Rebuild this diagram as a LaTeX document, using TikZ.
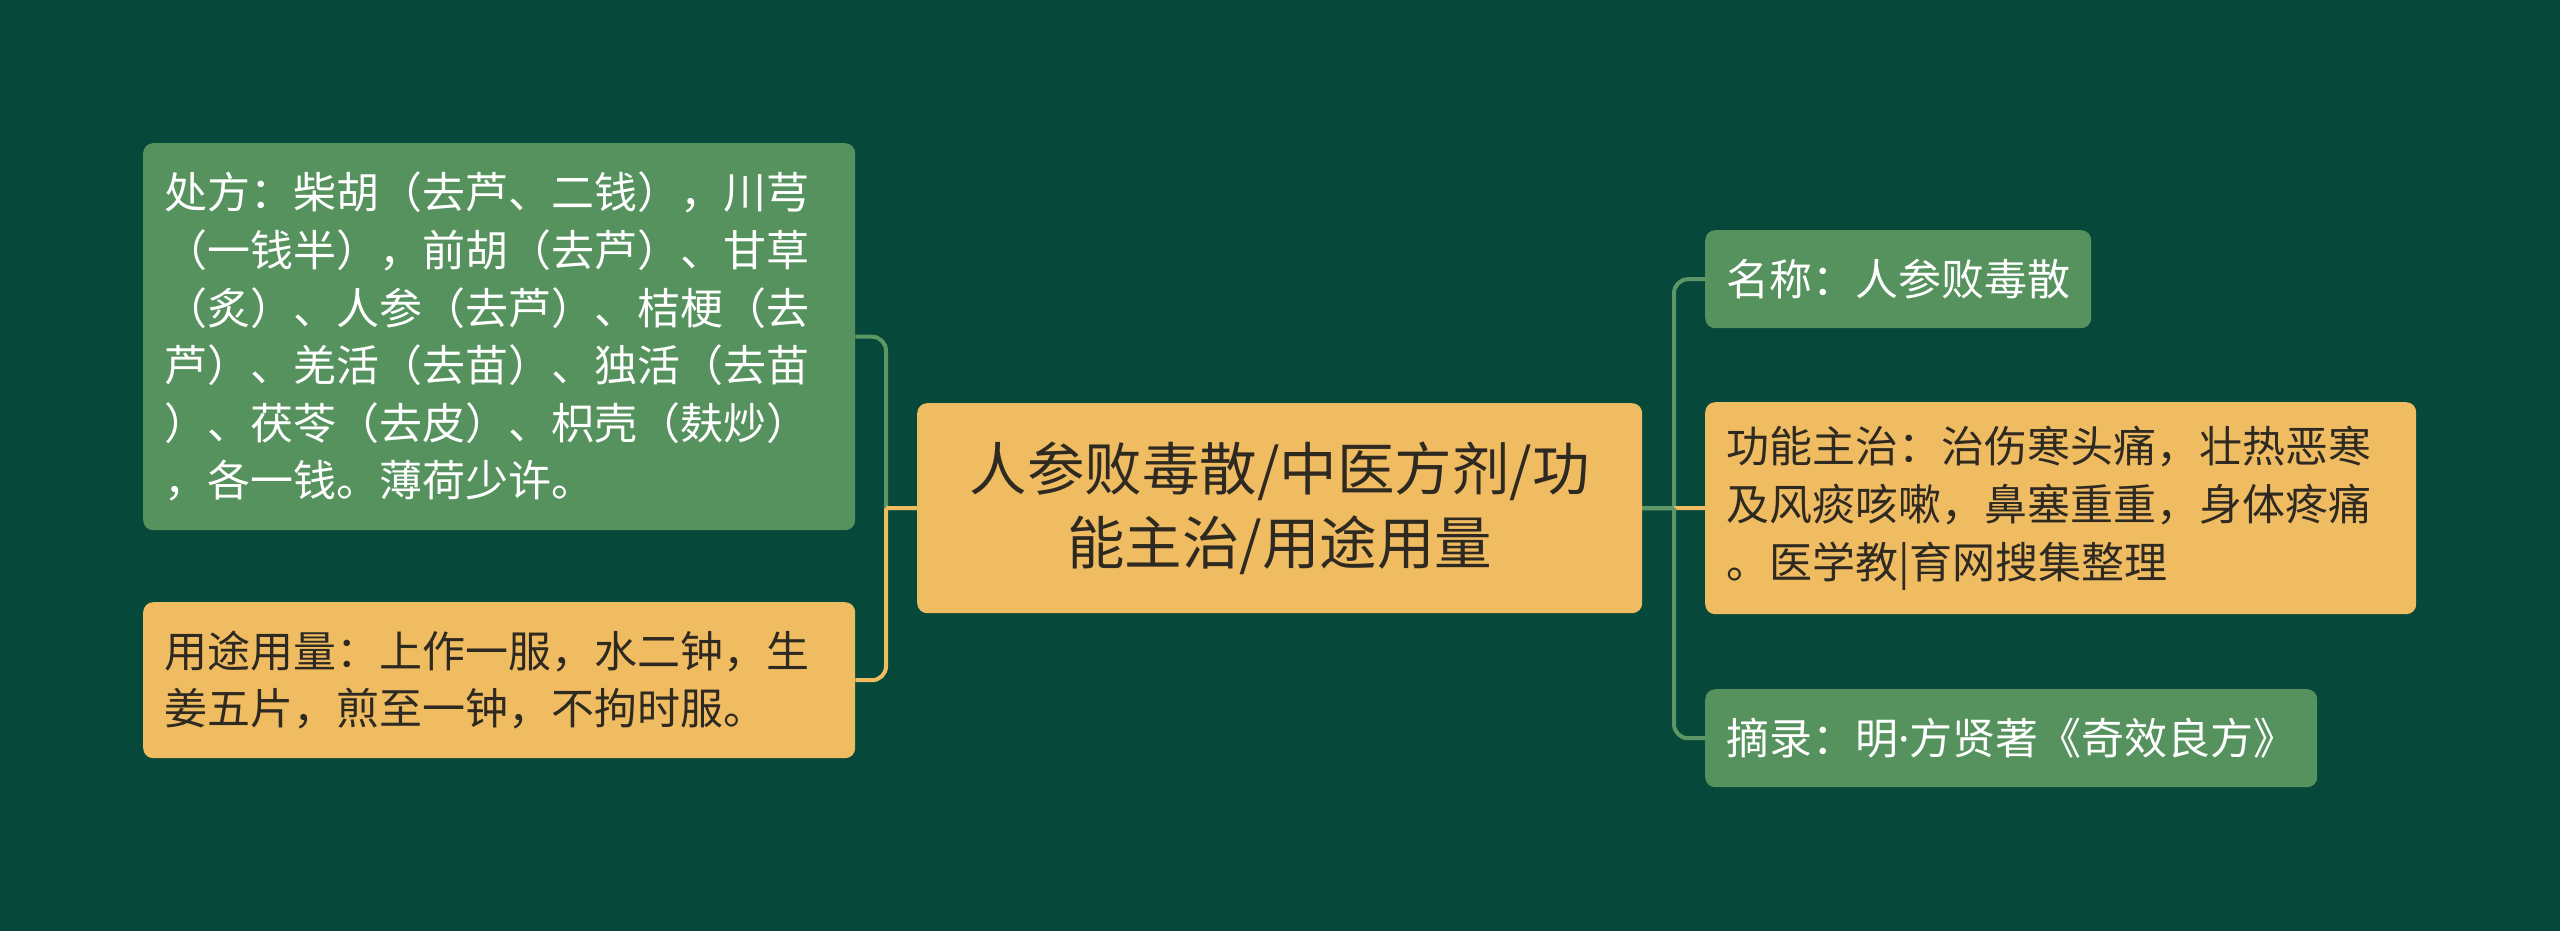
\documentclass[tikz,border=0pt]{standalone}
\usepackage{fontspec}
\newfontfamily\cjk{Noto Sans CJK SC}
\newfontfamily\latinf{Noto Sans}
\definecolor{bgc}{HTML}{06483A}
\definecolor{gfill}{HTML}{55925D}
\definecolor{yfill}{HTML}{F0BC62}
\definecolor{dtext}{HTML}{2E2A22}
\begin{document}
\begin{tikzpicture}[x=1pt,y=-1pt,
  box/.style={rounded corners=10pt, inner xsep=21pt, inner ysep=0pt, anchor=north west, align=left,
    font=\cjk\fontsize{43pt}{57.6pt}\selectfont},
  gbox/.style={box, fill=gfill, text=white},
  ybox/.style={box, fill=yfill, text=dtext},
  gline/.style={draw=gfill!95!white, line width=4pt},
  yline/.style={draw=yfill, line width=4pt},
  rc/.style={rounded corners=14pt}]
\fill[bgc] (0,0) rectangle (2560,931);
\useasboundingbox (0,0) rectangle (2560,931);
\node[ybox, text width=685pt, inner xsep=20pt, minimum height=210pt, align=center,
  font=\cjk\fontsize{57.5pt}{73.5pt}\selectfont] (c) at (917,403)
  {人参败毒散/中医方剂/功\\能主治/用途用量};
\node[gbox, text width=670pt, minimum height=387pt] (p1) at (143,143)
  {处方：柴胡（去芦、二钱），川芎\\（一钱半），前胡（去芦）、甘草\\（炙）、人参（去芦）、桔梗（去\\芦）、羌活（去苗）、独活（去苗\\）、茯苓（去皮）、枳壳（麸炒）\\，各一钱。薄荷少许。};
\node[ybox, text width=670pt, minimum height=156pt] (p2) at (143,602)
  {用途用量：上作一服，水二钟，生\\姜五片，煎至一钟，不拘时服。};
\node[gbox, text width=344pt, minimum height=98pt] (r1) at (1705,230)
  {名称：人参败毒散};
\node[ybox, text width=669pt, minimum height=212pt] (r2) at (1705,402)
  {功能主治：治伤寒头痛，壮热恶寒\\及风痰咳嗽，鼻塞重重，身体疼痛\\。医学教|育网搜集整理};
\node[gbox, text width=570pt, minimum height=98pt] (r3) at (1705,689)
  {摘录：明{\latinf ·}方贤著《奇效良方》};
\coordinate (jl) at (886,508);
\coordinate (jr) at (1674,508);
% left connectors
\draw[gline] (c.west) -- (jl);
\draw[gline, rc] (jl) |- (p1.east);
\draw[yline] (c.west) -- (jl);
\draw[yline, rc] (jl) |- (p2.east);
% right connectors
\draw[gline] (c.east) -- (jr);
\draw[gline, rc] (jr) |- (r1.west);
\draw[yline] (c.east) -- (jr);
\draw[yline] (jr) -- (r2.west);
\draw[gline] (c.east) -- (jr);
\draw[gline, rc] (jr) |- (r3.west);
\end{tikzpicture}
\end{document}
